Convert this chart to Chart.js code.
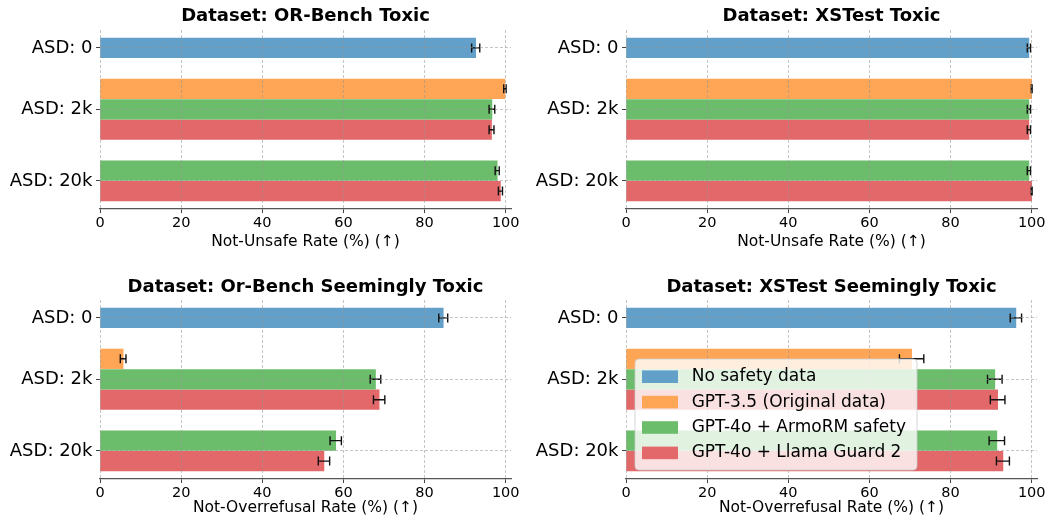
<!DOCTYPE html>
<html>
<head>
<meta charset="utf-8">
<script src="https://cdn.jsdelivr.net/npm/chart.js@4.4.1/dist/chart.umd.min.js"></script>
<style>
  body { margin: 0; background: #fff; }
  #wrap { position: relative; width: 1053px; height: 520px; }
  canvas { position: absolute; }
</style>
</head>
<body>
<div id="wrap">
  <canvas id="c0" width="526" height="260" style="left:0;top:0"></canvas>
  <canvas id="c1" width="527" height="260" style="left:526px;top:0"></canvas>
  <canvas id="c2" width="526" height="260" style="left:0;top:260px"></canvas>
  <canvas id="c3" width="527" height="260" style="left:526px;top:260px"></canvas>
</div>
<script>
// ---- data ----
var categories = ['ASD: 0', 'ASD: 2k', 'ASD: 20k'];
var seriesNames = ['No safety data', 'GPT-3.5 (Original data)', 'GPT-4o + ArmoRM safety', 'GPT-4o + Llama Guard 2'];
var panelTitles = ['Dataset: OR-Bench Toxic', 'Dataset: XSTest Toxic', 'Dataset: Or-Bench Seemingly Toxic', 'Dataset: XSTest Seemingly Toxic'];
var axisTitles = ['Not-Unsafe Rate (%) (\u2191)', 'Not-Unsafe Rate (%) (\u2191)', 'Not-Overrefusal Rate (%) (\u2191)', 'Not-Overrefusal Rate (%) (\u2191)'];
var xTicks = [0, 20, 40, 60, 80, 100];

// one value per panel, in the order of panelTitles
var noSafety = [92.6, 99.3, 84.6, 96.1];
var noSafetyErr = [1.0, 0.4, 1.1, 1.4];
var gpt35 = [99.8, 100, 5.7, 70.4];
var gpt35Err = [0.3, 0.1, 0.7, 3.0];
var armo2k = [96.6, 99.3, 67.9, 90.9];
var armo2kErr = [0.7, 0.4, 1.3, 1.8];
var armo20k = [97.9, 99.3, 58.1, 91.4];
var armo20kErr = [0.5, 0.4, 1.4, 1.9];
var llama2k = [96.5, 99.3, 68.8, 91.6];
var llama2kErr = [0.6, 0.4, 1.4, 1.8];
var llama20k = [98.7, 100, 55.2, 92.9];
var llama20kErr = [0.5, 0.1, 1.4, 1.6];

// ---- styling / layout ----
var FONT = "'DejaVu Sans', sans-serif";
var colors = ['#62a0ca', '#ffa556', '#6bbc6b', '#e26869'];
var groupCenters = [0, 0.6, 1.3];   // where the category ticks sit on the y scale
var gridColor = 'rgba(150,150,150,0.55)';

var errorBars = {
    id: 'errorBars',
    afterDatasetsDraw: function (chart) {
        var ctx = chart.ctx, xs = chart.scales.x;
        ctx.save();
        ctx.strokeStyle = '#111';
        ctx.lineWidth = 1.4;
        chart.data.datasets.forEach(function (ds, di) {
            chart.getDatasetMeta(di).data.forEach(function (bar, j) {
                var v = ds.data[j].x, e = ds.errors[j];
                var x1 = xs.getPixelForValue(v - e), x2 = xs.getPixelForValue(v + e), y = bar.y;
                ctx.beginPath();
                ctx.moveTo(x1, y); ctx.lineTo(x2, y);
                ctx.moveTo(x1, y - 4.5); ctx.lineTo(x1, y + 4.5);
                ctx.moveTo(x2, y - 4.5); ctx.lineTo(x2, y + 4.5);
                ctx.stroke();
            });
        });
        ctx.restore();
    }
};

var boxLegend = {
    id: 'boxLegend',
    afterDraw: function (chart, args, opts) {
        if (!opts.show) return;
        var ctx = chart.ctx;
        var x = 109, y = 99, w = 282, h = 111;
        ctx.save();
        ctx.beginPath();
        ctx.roundRect(x, y, w, h, 4);
        ctx.fillStyle = 'rgba(255,255,255,0.8)';
        ctx.fill();
        ctx.strokeStyle = 'rgba(204,204,204,0.8)';
        ctx.lineWidth = 1;
        ctx.stroke();
        ctx.font = '17px ' + FONT;
        ctx.textBaseline = 'middle';
        seriesNames.forEach(function (name, i) {
            var cy = y + 17.7 + i * 25.4;
            ctx.fillStyle = colors[i];
            ctx.fillRect(x + 7, cy - 6.3, 36, 12.6);
            ctx.fillStyle = '#000';
            ctx.fillText(name, x + 56.7, cy);
        });
        ctx.restore();
    }
};

var makeChart = function (i) {
    var topRow = i < 2;
    var canvas = document.getElementById('c' + i);
    return new Chart(canvas, {
        type: 'bar',
        data: {
            datasets: [{
                label: seriesNames[0],
                data: [{ x: noSafety[i], y: 0 }],
                errors: [noSafetyErr[i]],
                backgroundColor: colors[0]
            }, {
                label: seriesNames[1],
                data: [{ x: gpt35[i], y: 0.4 }],
                errors: [gpt35Err[i]],
                backgroundColor: colors[1]
            }, {
                label: seriesNames[2],
                data: [{ x: armo2k[i], y: 0.6 }, { x: armo20k[i], y: 1.2 }],
                errors: [armo2kErr[i], armo20kErr[i]],
                backgroundColor: colors[2]
            }, {
                label: seriesNames[3],
                data: [{ x: llama2k[i], y: 0.8 }, { x: llama20k[i], y: 1.4 }],
                errors: [llama2kErr[i], llama20kErr[i]],
                backgroundColor: colors[3]
            }]
        },
        options: {
            responsive: false,
            animation: false,
            indexAxis: 'y',
            datasets: { bar: { grouped: false, barThickness: 19.6, borderWidth: 0 } },
            layout: { padding: { left: 0, right: canvas.width - 511, top: 0, bottom: 0 } },
            scales: {
                x: {
                    type: 'linear',
                    min: 0,
                    max: 101.3,
                    afterBuildTicks: function (s) { s.ticks = xTicks.map(function (v) { return { value: v }; }); },
                    afterFit: function (s) { s.height = topRow ? 51 : 41; },
                    ticks: { font: { family: FONT, size: 14.5 }, color: '#000', padding: 2, maxRotation: 0 },
                    grid: { z: 1, color: gridColor, lineWidth: 1, tickLength: 4, tickColor: '#444', tickWidth: 1 },
                    border: { display: true, z: 2, color: '#555', width: 1.3, dash: [3, 2] },
                    title: {
                        display: true, text: axisTitles[i], color: '#000',
                        font: { family: FONT, size: 15.5 },
                        padding: { top: 0, bottom: topRow ? 8.7 : 3 }
                    }
                },
                y: {
                    type: 'linear',
                    reverse: true,
                    offset: false,
                    min: -0.175,
                    max: 1.575,
                    afterBuildTicks: function (s) { s.ticks = groupCenters.map(function (v) { return { value: v }; }); },
                    afterFit: function (s) { s.width = 100; },
                    ticks: {
                        font: { family: FONT, size: 18 }, color: '#000', padding: 3.5,
                        callback: function (v, idx) { return categories[idx]; }
                    },
                    grid: { z: 1, offset: false, color: gridColor, lineWidth: 1, tickLength: 4, tickColor: '#444', tickWidth: 1 },
                    border: { display: false, z: 2, dash: [3, 2] }
                }
            },
            plugins: {
                legend: { display: false },
                tooltip: { enabled: false },
                title: {
                    display: true,
                    fullSize: false,
                    text: panelTitles[i],
                    color: '#000',
                    font: { family: FONT, size: 18, weight: 'bold' },
                    padding: topRow ? { top: 6, bottom: 2.4 } : { top: 17, bottom: 1.4 }
                },
                boxLegend: { show: i === 3 }
            }
        },
        plugins: [errorBars, boxLegend]
    });
};

[0, 1, 2, 3].forEach(makeChart);
</script>
</body>
</html>
